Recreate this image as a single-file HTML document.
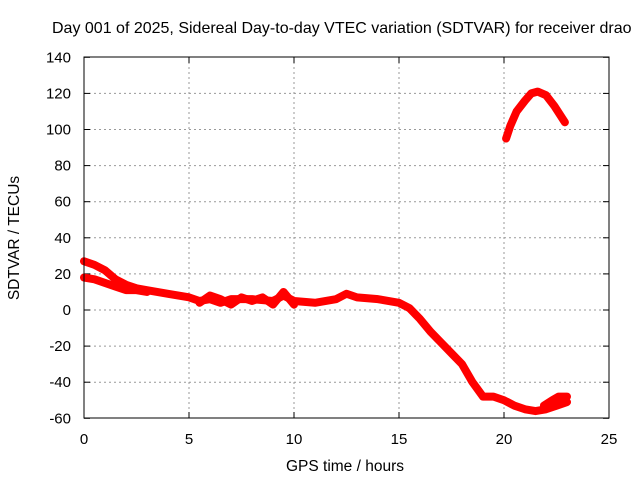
<!DOCTYPE html>
<html><head><meta charset="utf-8"><style>
body{margin:0;background:#fff;}
svg{display:block;font-family:"Liberation Sans",sans-serif;}
</style></head><body>
<svg id="chart" width="640" height="480">
<rect width="640" height="480" fill="#fff"/>
<text x="52" y="33" font-size="16">Day 001 of 2025, Sidereal Day-to-day VTEC variation (SDTVAR) for receiver drao</text>
<text x="345" y="471" font-size="15.5" text-anchor="middle">GPS time / hours</text>
<text transform="translate(19,238) rotate(-90)" font-size="15.5" text-anchor="middle">SDTVAR / TECUs</text>
<g id="grid"></g><g id="ticks"></g><g id="series"></g>
<rect x="84" y="57" width="525" height="361" fill="none" stroke="#000" stroke-width="1"/>
</svg>
<script>
const xTicks=[0,5,10,15,20,25];
const yTicks=[-60,-40,-20,0,20,40,60,80,100,120,140];
const upperT=[0,0.5,1,1.5,2,2.5,3,4,5,5.5,6,6.5,7,8,9,9.5,10,11,12,12.5,13,14,15,15.5,16,16.5,17,17.5,18,18.5,19,19.5,20,20.5,21,21.5,22,22.5,23];
const upperV=[27,25,22,17,14,12,11,9,7,5,6,4,6,6,5,8,5,4,6,9,7,6,4,1,-5,-12,-18,-24,-30,-40,-48,-48,-50,-53,-55,-56,-55,-53,-51];
const lowerT=[0,0.5,1,1.5,2,2.5,3];
const lowerV=[18,17,15,13,11,11,10];
const wobbleT=[5.5,6,6.5,7,7.5,8,8.5,9,9.5,10];
const wobbleV=[4,8,6,3,7,5,7,3,10,3];
const peakT=[20.1,20.3,20.6,21,21.3,21.6,22,22.4,22.9];
const peakV=[95,102,110,116,120,121,119,113,104];
const spurT=[21.9,22.3,22.6,23];
const spurV=[-53,-50,-48,-48];
const X=t=>84+t*21, Y=v=>310-v*1.805;
const ns="http://www.w3.org/2000/svg";
const g=document.getElementById('grid'),tk=document.getElementById('ticks'),s=document.getElementById('series');
function mk(tag,attrs,parent){const e=document.createElementNS(ns,tag);for(const k in attrs)e.setAttribute(k,attrs[k]);parent.appendChild(e);return e;}
xTicks.forEach(t=>{
 if(t>0&&t<25){const l=mk('line',{x1:X(t),x2:X(t),y1:57,y2:418,stroke:'#999','stroke-dasharray':'2,3'},g);
 
 }
 mk('line',{x1:X(t),x2:X(t),y1:418,y2:412,stroke:'#000'},tk);
 mk('line',{x1:X(t),x2:X(t),y1:57,y2:63,stroke:'#000'},tk);
 const tx=mk('text',{x:X(t),y:444,'font-size':15,'text-anchor':'middle'},tk);tx.textContent=t;
 
 
});
yTicks.forEach(v=>{
 if(v>-60&&v<140){const l=mk('line',{x1:84,x2:609,y1:Y(v),y2:Y(v),stroke:'#999','stroke-dasharray':'2,3'},g);
 
 }
 mk('line',{x1:84,x2:90,y1:Y(v),y2:Y(v),stroke:'#000'},tk);
 mk('line',{x1:609,x2:603,y1:Y(v),y2:Y(v),stroke:'#000'},tk);
 const tx=mk('text',{x:71,y:Y(v)+5,'font-size':15,'text-anchor':'end'},tk);tx.textContent=v;
 
 
});
function series(T,V,name){
 const p=mk('polyline',{points:T.map((t,i)=>X(t)+','+Y(V[i])).join(' '),fill:'none',stroke:'#f00','stroke-width':8,'stroke-linejoin':'round','stroke-linecap':'round'},s);
 
 
}
series(upperT,upperV,'sdtvar-main-band');
series(lowerT,lowerV,'sdtvar-lower-band');
series(wobbleT,wobbleV,'sdtvar-wobble-band');
series(peakT,peakV,'sdtvar-peak-arc');
series(spurT,spurV,'sdtvar-spur');
</script>
</body></html>
